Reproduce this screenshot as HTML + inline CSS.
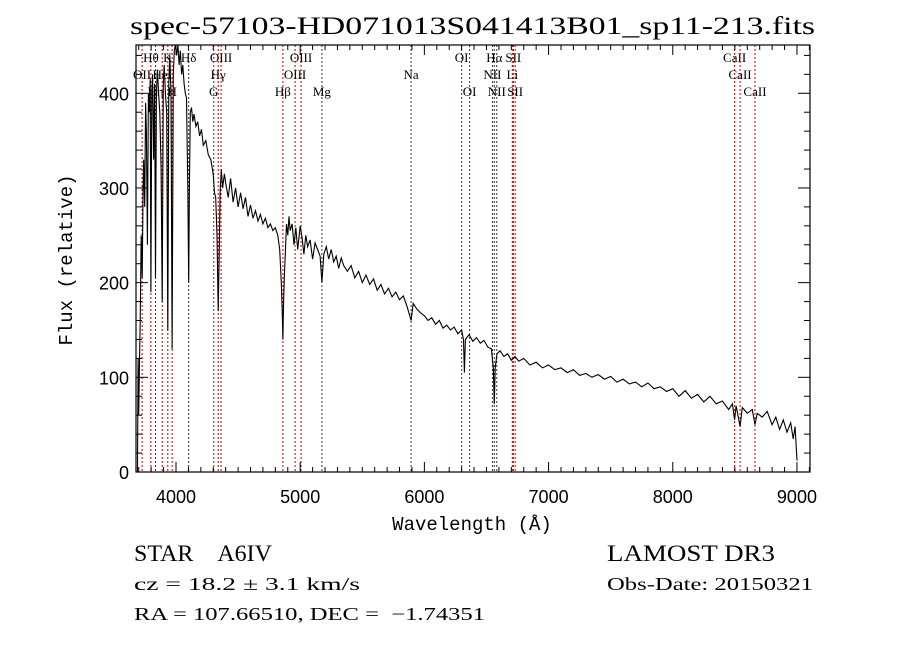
<!DOCTYPE html>
<html><head><meta charset="utf-8"><style>
html,body{margin:0;padding:0;background:#fff;}
svg{display:block;font-family:"Liberation Serif",serif;}
</style></head><body>
<svg id="chart" width="900" height="649" viewBox="0 0 900 649" xmlns="http://www.w3.org/2000/svg">
<rect width="900" height="649" fill="#fff"/>
<text x="130" y="34" font-size="25" textLength="685" lengthAdjust="spacingAndGlyphs">spec-57103-HD071013S041413B01_sp11-213.fits</text>
<g id="lines"></g>
<g id="axes"></g>
<path id="spec" fill="none" stroke="#000" stroke-width="1.1"/>
<rect x="136" y="45" width="674" height="427" fill="none" stroke="#000" stroke-width="1.2"/>
<text x="472" y="530" font-size="19" text-anchor="middle" font-family="Liberation Mono, monospace">Wavelength (Å)</text>
<text transform="translate(72,260) rotate(-90)" font-size="19" text-anchor="middle" font-family="Liberation Mono, monospace">Flux (relative)</text>
<text x="134" y="561" font-size="23" textLength="138" lengthAdjust="spacingAndGlyphs">STAR&#160;&#160;&#160;&#160;A6IV</text>
<text x="134" y="590" font-size="18" textLength="226" lengthAdjust="spacingAndGlyphs">cz = 18.2 ± 3.1 km/s</text>
<text x="134" y="620" font-size="18" textLength="351" lengthAdjust="spacingAndGlyphs">RA = 107.66510, DEC =&#160;&#160;−1.74351</text>
<text x="607" y="561" font-size="23" textLength="168" lengthAdjust="spacingAndGlyphs">LAMOST DR3</text>
<text x="607" y="590" font-size="18" textLength="206" lengthAdjust="spacingAndGlyphs">Obs-Date: 20150321</text>
</svg>
<script>
const wave = [3690,3695,3700,3705,3712,3720,3728,3735,3740,3748,3755,3762,3770,3778,3785,3792,3798,3805,3812,3820,3828,3835,3842,3850,3860,3870,3880,3889,3898,3905,3915,3925,3934,3942,3950,3960,3969,3978,3986,3995,4005,4015,4025,4035,4045,4055,4065,4075,4085,4095,4102,4108,4115,4125,4135,4145,4160,4175,4190,4205,4220,4240,4260,4280,4300,4310,4320,4330,4340,4348,4355,4365,4375,4390,4400,4420,4440,4460,4480,4500,4520,4540,4560,4580,4600,4620,4640,4660,4680,4700,4720,4740,4760,4780,4800,4820,4835,4848,4855,4861,4866,4872,4880,4890,4900,4910,4920,4935,4950,4965,4980,5000,5015,5030,5045,5060,5080,5100,5120,5140,5160,5175,5190,5210,5230,5250,5270,5290,5310,5330,5350,5380,5410,5440,5470,5500,5530,5560,5590,5620,5650,5680,5710,5740,5770,5800,5830,5860,5893,5910,5940,5970,6000,6030,6060,6090,6120,6150,6180,6210,6240,6270,6300,6315,6322,6330,6360,6390,6420,6450,6480,6510,6540,6555,6563,6570,6585,6610,6640,6670,6700,6730,6760,6800,6850,6900,6950,7000,7050,7100,7150,7200,7250,7300,7350,7400,7450,7500,7550,7600,7650,7700,7750,7800,7850,7900,7950,8000,8050,8100,8150,8200,8250,8300,8350,8400,8450,8480,8498,8510,8542,8560,8600,8640,8662,8680,8720,8760,8800,8830,8860,8890,8920,8950,8970,8985,9000];
const flux = [0,120,60,110,160,250,205,300,330,280,390,360,240,400,380,415,190,400,420,330,410,205,400,425,400,380,320,180,410,430,400,380,150,410,440,400,130,420,445,460,440,455,430,445,420,430,410,400,395,300,200,300,380,385,370,378,365,370,355,362,345,350,335,330,315,295,290,250,170,230,295,320,300,315,305,290,310,285,300,280,295,278,290,270,282,268,276,265,272,262,268,258,262,255,258,250,235,200,170,140,175,205,230,262,250,270,255,262,240,258,235,260,248,230,250,238,245,225,242,235,228,200,230,238,225,235,222,228,215,226,218,212,218,205,212,200,208,198,204,192,198,188,194,185,190,182,186,175,160,178,172,168,165,160,163,156,160,152,155,150,153,146,150,140,105,140,145,138,142,136,139,132,130,110,72,110,125,128,122,125,118,122,117,120,113,116,110,113,108,110,105,108,102,104,100,103,98,101,95,98,93,95,90,94,88,90,85,88,80,86,78,82,74,80,72,75,66,72,55,70,48,68,62,66,50,62,58,64,50,58,45,55,42,52,35,48,12];
const xTicks = [4000,5000,6000,7000,8000,9000];
const yTicks = [0,100,200,300,400];
const lineWaves = [3727,3798,3835,3889,3934,3969,4102,4304,4340,4363,4861,4959,5007,5175,5893,6300,6364,6548,6563,6583,6708,6716,6731,8498,8542,8662];
const lineColors = ['r','r','r','r','r','r','k','r','r','r','r','r','r','k','k','r','r','k','k','k','r','r','r','r','r','r'];
const lineLabels = [['OII',1],['Hθ',0],['Hη',2],['HeI',1],['K',0],['H',2],['Hδ',0],['G',2],['Hγ',1],['OIII',0],['Hβ',2],['OIII',1],['OIII',0],['Mg',2],['Na',1],['OI',0],['OI',2],['NII',1],['Hα',0],['NII',2],['Li',1],['SII',0],['SII',2],['CaII',0],['CaII',1],['CaII',2]];
const X0=136,X1=810,Y0=472,Y1=45,WMIN=3678,WMAX=9105,FMIN=0,FMAX=451;
const xs = w => X0+(w-WMIN)/(WMAX-WMIN)*(X1-X0);
const ys = f => Y0-(f-FMIN)/(FMAX-FMIN)*(Y0-Y1);
const NS='http://www.w3.org/2000/svg';
function mk(tag,attrs,parent){const e=document.createElementNS(NS,tag);for(const k in attrs)e.setAttribute(k,attrs[k]);parent.appendChild(e);return e;}
const axes=document.getElementById('axes'), lines=document.getElementById('lines');
let d='';
for(let i=0;i<wave.length;i++){d+=(i?'L':'M')+xs(Math.max(wave[i],WMIN)).toFixed(1)+','+Math.max(ys(flux[i]),Y1).toFixed(1);}
document.getElementById('spec').setAttribute('d',d);
for(let i=0;i<lineWaves.length;i++){
  const x=xs(lineWaves[i]);
  const l=mk('line',{x1:x,x2:x,y1:Y1,y2:Y0,stroke:lineColors[i]==='r'?'#c00000':'#333','stroke-width':1,'stroke-dasharray':'2,2'},lines);
  
  
  const t=mk('text',{x:x,y:62+lineLabels[i][1]*17,'font-size':13,'text-anchor':'middle'},lines);
  t.textContent=lineLabels[i][0];
  
  
}
for(let w=3700;w<=9100;w+=100){
  const x=xs(w), maj=w%1000===0, len=maj?10:5;
  mk('line',{x1:x,x2:x,y1:Y0,y2:Y0-len,stroke:'#000'},axes);
  mk('line',{x1:x,x2:x,y1:Y1,y2:Y1+len,stroke:'#000'},axes);
}
xTicks.forEach(v=>{const t=mk('text',{x:xs(v),y:503,'font-size':18,'text-anchor':'middle','font-family':'Liberation Sans, sans-serif'},axes);t.textContent=v;
  
  });
for(let f=0;f<=440;f+=20){
  const y=ys(f), maj=f%100===0, len=maj?12:6;
  mk('line',{x1:X0,x2:X0+len,y1:y,y2:y,stroke:'#000'},axes);
  mk('line',{x1:X1,x2:X1-len,y1:y,y2:y,stroke:'#000'},axes);
}
yTicks.forEach(v=>{const t=mk('text',{x:129,y:ys(v)+7,'font-size':18,'text-anchor':'end','font-family':'Liberation Sans, sans-serif'},axes);t.textContent=v;
  
  });
</script>
</body></html>
